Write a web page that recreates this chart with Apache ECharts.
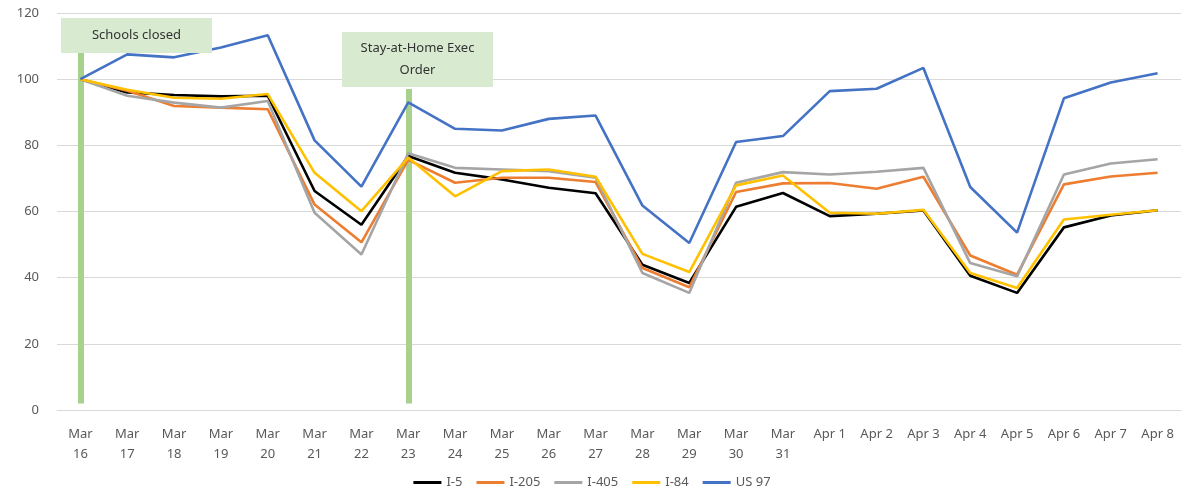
<!DOCTYPE html>
<html>
<head>
<meta charset="utf-8">
<script src="https://cdn.jsdelivr.net/npm/echarts@6/dist/echarts.min.js"></script>
<style>
  html, body { margin: 0; padding: 0; background: #fff; }
  #chart { width: 1184px; height: 498px; }
</style>
</head>
<body>
<div id="chart"></div>
<script>
// dates on the x axis
var days = ['Mar 16', 'Mar 17', 'Mar 18', 'Mar 19', 'Mar 20', 'Mar 21', 'Mar 22', 'Mar 23',
  'Mar 24', 'Mar 25', 'Mar 26', 'Mar 27', 'Mar 28', 'Mar 29', 'Mar 30', 'Mar 31',
  'Apr 1', 'Apr 2', 'Apr 3', 'Apr 4', 'Apr 5', 'Apr 6', 'Apr 7', 'Apr 8'];

// traffic volume index per road (Mar 16 = 100)
var i5 = [100, 96, 95.2, 94.8, 95, 66.2, 56, 76.8, 71.7, 69.7, 67.2, 65.5, 43.9, 38.4, 61.4, 65.6,
  58.6, 59.3, 60.3, 40.6, 35.4, 55.2, 58.8, 60.4];
var i205 = [100, 96.5, 91.9, 91.4, 90.9, 62.1, 50.7, 75.6, 68.7, 70.2, 70.2, 68.9, 42.9, 37.1, 65.9, 68.5,
  68.6, 66.9, 70.5, 46.7, 40.9, 68.2, 70.6, 71.7];
var i405 = [100, 95, 92.9, 91.4, 93.4, 59.6, 47, 77.6, 73.2, 72.7, 72.2, 70.2, 41.4, 35.4, 68.7, 71.9,
  71.2, 72, 73.2, 44.4, 40.4, 71.2, 74.5, 75.8];
var i84 = [100, 96.8, 94.4, 94.1, 95.5, 71.7, 60.1, 76.3, 64.6, 72.2, 72.7, 70.5, 47.2, 41.7, 67.9, 70.9,
  59.6, 59.3, 60.5, 41.4, 36.9, 57.6, 59, 60.4];
var us97 = [100, 107.5, 106.6, 109.6, 113.3, 81.5, 67.5, 93, 85, 84.5, 88, 89, 61.8, 50.5, 81, 82.8,
  96.4, 97.1, 103.4, 67.4, 53.6, 94.2, 99, 101.8];

var yTicks = { min: 0, max: 120, step: 20 };

// event markers: day, label, top of the bar (in index units)
var events = [
  { day: 'Mar 16', text: 'Schools closed', top: 108 },
  { day: 'Mar 23', text: 'Stay-at-Home Exec\nOrder', top: 97 }
];

var font = 'Noto Sans';
var chart = echarts.init(document.getElementById('chart'));

function makeSeries(name, data, color, withMarks) {
  var s = {
    name: name,
    type: 'line',
    data: data,
    symbol: 'none',
    lineStyle: { width: 2.6, color: color },
    itemStyle: { color: color },
    z: 3
  };
  if (withMarks) {
    s.markLine = {
      silent: true,
      symbol: 'none',
      label: { show: false },
      lineStyle: { color: '#a9d18e', width: 6, type: 'solid', opacity: 1 },
      z: 1,
      data: events.map(function (e) {
        return [{ coord: [e.day, 2] }, { coord: [e.day, e.top] }];
      })
    };
  }
  return s;
}

// label boxes for the events
function box(x, y, w, h, text) {
  return [
    { type: 'rect', z: 100, shape: { x: x, y: y, width: w, height: h }, style: { fill: '#d8eacf' } },
    { type: 'text', z: 101, x: x + w / 2, y: y + h / 2,
      style: { text: text, fill: '#333', font: '13px "Noto Sans"', align: 'center', verticalAlign: 'middle', lineHeight: 22 } }
  ];
}

var option = {
  backgroundColor: '#fff',
  animation: false,
  grid: { left: 57, right: 3, top: 13, bottom: 88 },
  legend: {
    bottom: 4,
    left: 'center',
    itemWidth: 28,
    itemHeight: 3,
    itemGap: 14,
    icon: 'rect',
    textStyle: { fontFamily: font, fontSize: 13, color: '#595959' },
    data: ['I-5', 'I-205', 'I-405', 'I-84', 'US 97']
  },
  xAxis: {
    type: 'category',
    data: days,
    boundaryGap: true,
    axisLine: { lineStyle: { color: '#d9d9d9' } },
    axisTick: { show: false },
    axisLabel: {
      interval: 0,
      margin: 14,
      color: '#595959',
      fontFamily: font,
      fontSize: 13,
      lineHeight: 20,
      formatter: function (v) {
        return v.indexOf('Mar') === 0 ? v.replace(' ', '\n') : v;
      }
    }
  },
  yAxis: {
    type: 'value',
    min: yTicks.min,
    max: yTicks.max,
    interval: yTicks.step,
    axisLine: { show: false },
    axisTick: { show: false },
    splitLine: { lineStyle: { color: '#d9d9d9', width: 1 } },
    axisLabel: { color: '#595959', fontFamily: font, fontSize: 13, margin: 18 }
  },
  series: [
    makeSeries('I-5', i5, '#000000', true),
    makeSeries('I-205', i205, '#ed7d31'),
    makeSeries('I-405', i405, '#a5a5a5'),
    makeSeries('I-84', i84, '#ffc000'),
    makeSeries('US 97', us97, '#4472c4')
  ],
  graphic: box(61, 18, 151, 35, events[0].text).concat(box(342, 32, 151, 55, events[1].text))
};

chart.setOption(option);
</script>
</body>
</html>
